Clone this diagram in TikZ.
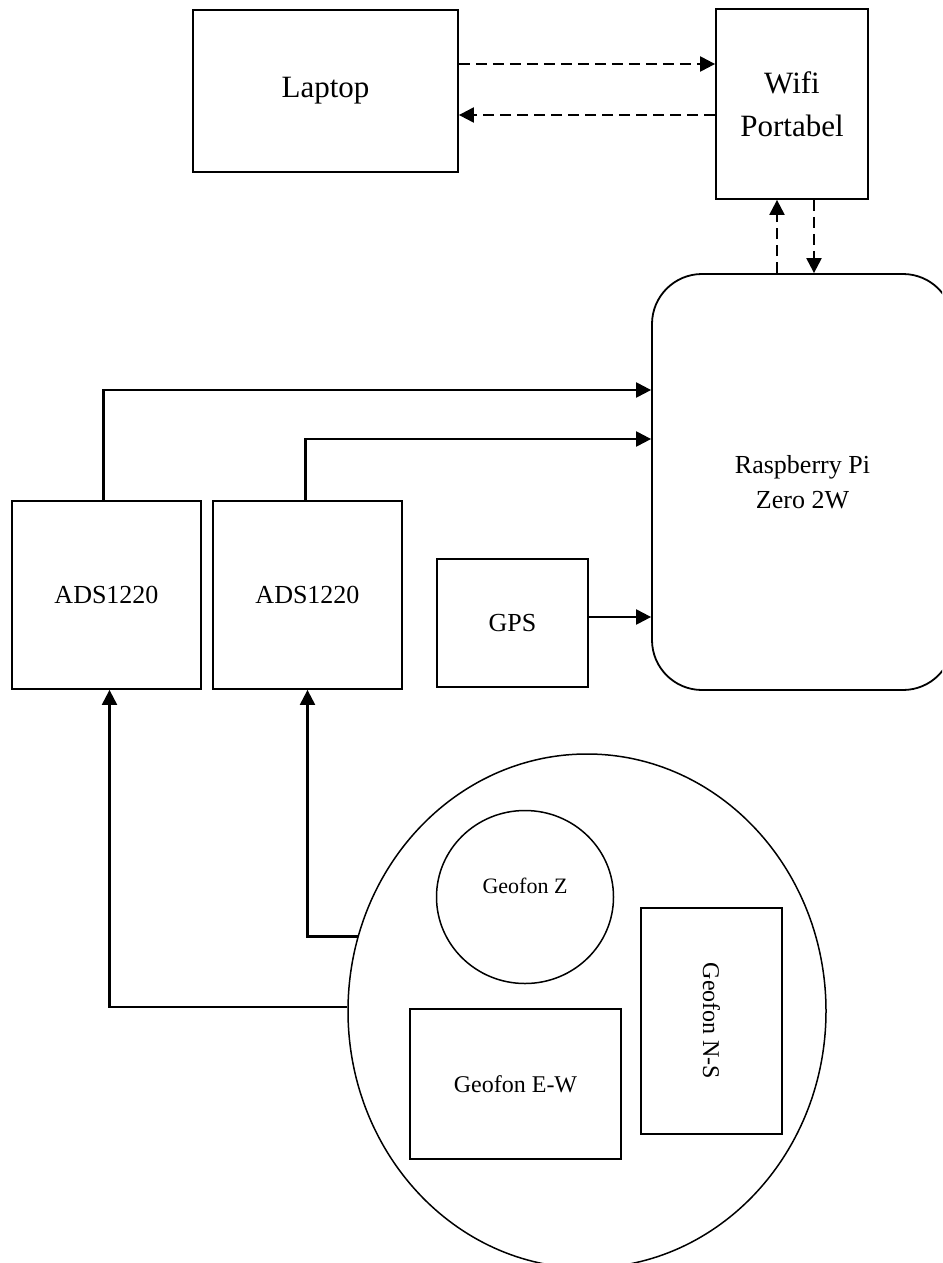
\documentclass[tikz,border=0pt]{standalone}
\usepackage{fontspec}
\setmainfont{Liberation Serif}
\usetikzlibrary{arrows.meta,shapes.geometric}
\definecolor{bdink}{HTML}{000000}

\begin{document}
\begin{tikzpicture}[x=1pt,y=-1pt,
    box/.style={draw=bdink,line width=1.8pt,inner sep=0pt,align=center},
    wire/.style={draw=bdink,line width=2.2pt,-{Triangle[length=15pt,width=15pt]}},
    wifiwire/.style={wire,dash pattern=on 11pt off 6pt}]
  \useasboundingbox (0,0) rectangle (942,1263);
  \clip (0,0) rectangle (942,1263);
  % top row
  \node[box,minimum width=265pt,minimum height=162pt,font=\fontsize{31}{43}\selectfont] (laptop) at (325.5,91) {Laptop};
  \node[box,minimum width=152pt,minimum height=190pt,font=\fontsize{31}{43}\selectfont] (wifi) at (792,104) {Wifi\\Portabel};
  \node[box,rounded corners=50pt,minimum width=301pt,minimum height=416pt,font=\fontsize{26}{35}\selectfont] (rpi) at (802.5,482) {Raspberry Pi\\Zero 2W};
  % converters
  \node[box,minimum width=189pt,minimum height=188pt,font=\fontsize{26}{32}\selectfont] (ads1) at (106.5,595) {ADS1220};
  \node[box,minimum width=189pt,minimum height=188pt,font=\fontsize{26}{32}\selectfont] (ads2) at (307.5,595) {ADS1220};
  \node[box,minimum width=151pt,minimum height=128pt,font=\fontsize{26}{32}\selectfont] (gps) at (512.5,623) {GPS};
  % geophones
  \node[box,ellipse,line width=1.5pt,minimum width=478pt,minimum height=514pt] (sensor) at (587,1011) {};
  \node[box,ellipse,line width=1.5pt,minimum width=177pt,minimum height=173pt,
    label={[font=\fontsize{22}{26}\selectfont,yshift=11pt]center:Geofon Z}] (geoz) at (525,897) {};
  \node[box,line width=1.5pt,minimum width=211pt,minimum height=150pt,font=\fontsize{24}{28}\selectfont] (geoew) at (515.5,1084) {Geofon E-W};
  \node[box,line width=1.5pt,minimum width=141pt,minimum height=226pt] (geons) at (711.5,1021) {};
  \node[rotate=-90,font=\fontsize{24}{28}\selectfont] (geonslabel) at (geons.center) {Geofon N-S};
  % links
  \draw[wifiwire] ([yshift=27pt]laptop.east) -- ([yshift=27pt]laptop.east -| wifi.west);
  \draw[wifiwire] ([yshift=-24pt]laptop.east -| wifi.west) -- ([yshift=-24pt]laptop.east);
  \draw[wifiwire] ([xshift=-15pt]wifi.south |- rpi.north) -- ([xshift=-15pt]wifi.south);
  \draw[wifiwire] ([xshift=22pt]wifi.south) -- ([xshift=22pt]wifi.south |- rpi.north);
  \draw[wire] ([xshift=-3pt]ads1.north) |- ([yshift=92pt]rpi.west);
  \draw[wire] ([xshift=-2pt]ads2.north) |- ([yshift=43pt]rpi.west);
  \draw[wire] ([yshift=6pt]gps.east) -- ([yshift=6pt]gps.east -| rpi.west);
  \draw[wire] (sensor.162.5) -| (ads2.south);
  \draw[wire] (sensor.179) -| ([xshift=3pt]ads1.south);
\end{tikzpicture}
\end{document}
